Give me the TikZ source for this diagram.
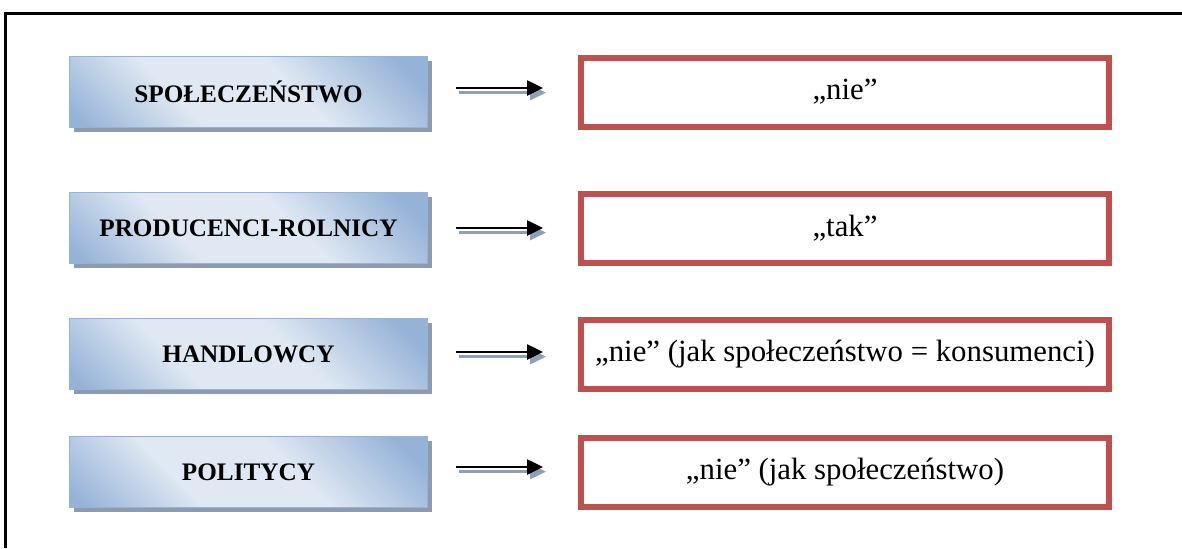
\documentclass[tikz,border=0pt]{standalone}
\usepackage{fontspec}
\setmainfont{Liberation Serif}
\usetikzlibrary{arrows.meta,shadows}
\definecolor{bdark}{HTML}{95B3D7}
\definecolor{blight}{HTML}{DFE8F3}
\definecolor{bshadow}{HTML}{8C9BB0}
\definecolor{redbox}{HTML}{C0504D}
\definecolor{ashadow}{HTML}{8EA0B8}
\pgfdeclarehorizontalshading{bluebox}{100bp}{color(0bp)=(bdark); color(17bp)=(bdark);
  color(37bp)=(blight); color(58bp)=(blight); color(80bp)=(bdark); color(100bp)=(bdark)}
\tikzset{
  labelbox/.style={rectangle, outer sep=0pt, minimum width=179pt, minimum height=35.5pt,
    draw=bdark, line width=0.6pt, shading=bluebox, shading angle=45,
    general shadow={shadow xshift=2pt, shadow yshift=-2pt, fill=bshadow},
    font=\fontsize{12.6}{15}\selectfont\bfseries},
  answerbox/.style={rectangle, outer sep=0pt, minimum width=264pt, minimum height=34.5pt,
    draw=redbox, line width=3pt, fill=white,
    font=\fontsize{15.4}{18}\selectfont},
  arrowline/.style={line width=1.3pt, shorten <=14.25pt, shorten >=19pt,
    -{Triangle[length=8pt,width=7.5pt]}},
  arrowshadow/.style={arrowline, draw=ashadow, transform canvas={shift={(1.5pt,-2.3pt)}}},
  frameline/.style={line width=1.5pt, black}
}
\begin{document}
\begin{tikzpicture}[x=0.5pt,y=-0.5pt]
\useasboundingbox (0,0) rectangle (1182,548);
\coordinate (fbl) at (5,548);
\coordinate (ftl) at (5,13);
\coordinate (ftr) at (1182,13);
\draw[frameline] (fbl) -- (ftl) -- (ftr);

\node[labelbox] (b1) at (248.5,92) {SPOŁECZEŃSTWO};
\node[labelbox] (b2) at (248.5,228) {PRODUCENCI-ROLNICY};
\node[labelbox] (b3) at (248.5,354) {HANDLOWCY};
\node[labelbox] (b4) at (248.5,472) {POLITYCY};

\node[answerbox] (r1) at (845,92) {„nie”};
\node[answerbox] (r2) at (845,228) {„tak”};
\node[answerbox] (r3) at (845,354) {„nie” (jak społeczeństwo = konsumenci)};
\node[answerbox] (r4) at (845,472) {„nie” (jak społeczeństwo)};

\draw[arrowshadow] ([yshift=2pt]b1.east) -- ([yshift=2pt]r1.west);
\draw[arrowline] ([yshift=2pt]b1.east) -- ([yshift=2pt]r1.west);
\draw[arrowshadow] ([yshift=0pt]b2.east) -- ([yshift=0pt]r2.west);
\draw[arrowline] ([yshift=0pt]b2.east) -- ([yshift=0pt]r2.west);
\draw[arrowshadow] ([yshift=1pt]b3.east) -- ([yshift=1pt]r3.west);
\draw[arrowline] ([yshift=1pt]b3.east) -- ([yshift=1pt]r3.west);
\draw[arrowshadow] ([yshift=2.5pt]b4.east) -- ([yshift=2.5pt]r4.west);
\draw[arrowline] ([yshift=2.5pt]b4.east) -- ([yshift=2.5pt]r4.west);
\end{tikzpicture}
\end{document}
